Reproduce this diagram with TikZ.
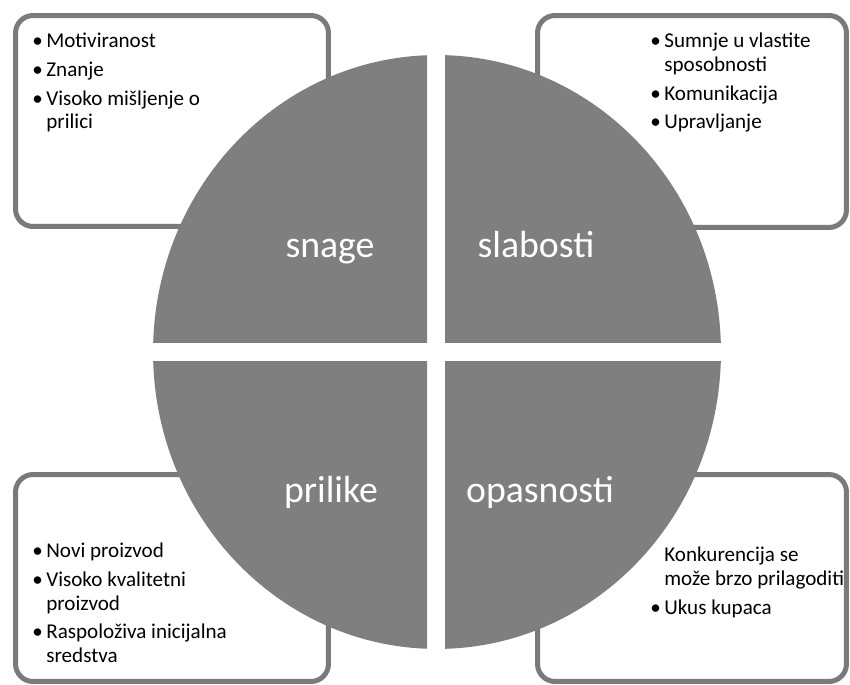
\documentclass[tikz,border=0pt]{standalone}
\usepackage{fontspec}
\setmainfont{Carlito}
\definecolor{quadgray}{RGB}{127,127,127}
\definecolor{framegray}{RGB}{122,122,122}
\begin{document}
\begin{tikzpicture}[x=0.02cm,y=-0.02cm,
  infobox/.style={draw=framegray, line width=0.1cm, fill=white, rounded corners=0.35cm, inner sep=0pt},
  quadfill/.style={fill=quadgray},
  quadlabel/.style={text=white, font=\fontsize{21.5}{25}\selectfont, anchor=base, inner sep=0pt},
  itemtext/.style={anchor=base west, inner sep=0pt, font=\fontsize{12}{13.3}\selectfont, text=black}]
\useasboundingbox (0,0) rectangle (850,685);
% boxes
\node[infobox, minimum width=6.26cm, minimum height=4.22cm] (tlbox) at (172,121) {};
\node[infobox, minimum width=6.18cm, minimum height=4.24cm] (trbox) at (692,121.5) {};
\node[infobox, minimum width=6.26cm, minimum height=4.14cm] (blbox) at (172,578) {};
\node[infobox, minimum width=6.18cm, minimum height=4.14cm] (brbox) at (692,578) {};
% quadrants
\begin{scope}
  \clip (100,0) rectangle (427,343);
  \fill[quadfill] (437,352) ellipse [x radius=5.68cm, y radius=5.94cm];
\end{scope}
\begin{scope}
  \clip (445,0) rectangle (800,343);
  \fill[quadfill] (437,352) ellipse [x radius=5.68cm, y radius=5.94cm];
\end{scope}
\begin{scope}
  \clip (100,362) rectangle (427,700);
  \fill[quadfill] (437,352) ellipse [x radius=5.68cm, y radius=5.94cm];
\end{scope}
\begin{scope}
  \clip (445,362) rectangle (800,700);
  \fill[quadfill] (437,352) ellipse [x radius=5.68cm, y radius=5.94cm];
\end{scope}
% labels
\node[quadlabel] (snage) at (330,258) {snage};
\node[quadlabel] (slabosti) at (536,258) {slabosti};
\node[quadlabel] (prilike) at (331,503) {prilike};
\node[quadlabel] (opasnosti) at (540,503) {opasnosti};
% box texts
\node[itemtext] (tltext) at (32,48) {\begin{tabular}[t]{@{}l@{\hspace{2pt}}l@{}}•&Motiviranost\\[3.1pt]•&Znanje\\[3.1pt]•&Visoko mišljenje o\\&prilici\end{tabular}};
\node[itemtext] (trtext) at (650,48) {\begin{tabular}[t]{@{}l@{\hspace{2pt}}l@{}}•&Sumnje u vlastite\\&sposobnosti\\[3.1pt]•&Komunikacija\\[3.1pt]•&Upravljanje\end{tabular}};
\node[itemtext] (bltext) at (32,558) {\begin{tabular}[t]{@{}l@{\hspace{2pt}}l@{}}•&Novi proizvod\\[3.1pt]•&Visoko kvalitetni\\&proizvod\\[3.1pt]•&Raspoloživa inicijalna\\&sredstva\end{tabular}};
\node[itemtext] (brtext) at (650,562) {\begin{tabular}[t]{@{}l@{\hspace{2pt}}l@{}}&Konkurencija se\\&može brzo prilagoditi\\[3.1pt]•&Ukus kupaca\end{tabular}};
\end{tikzpicture}
\end{document}
